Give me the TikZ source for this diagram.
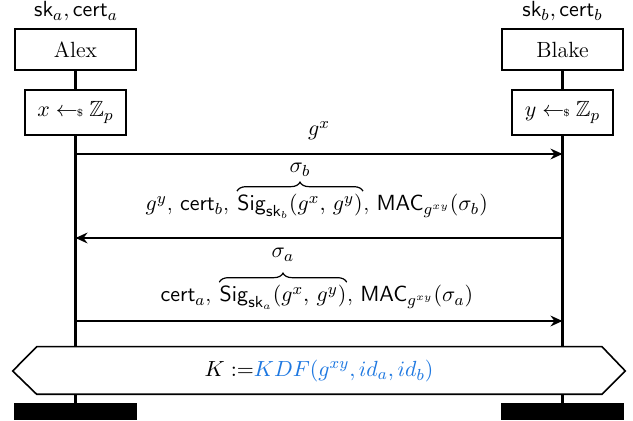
\documentclass[tikz,border=0pt]{standalone}
\usepackage{amssymb}
\usetikzlibrary{arrows.meta,decorations.pathreplacing}
\definecolor{kdfblue}{RGB}{30,120,225}
\tikzset{
  inst/.style={draw, line width=0.8pt, minimum width=60.5pt, minimum height=20.5pt, inner sep=0pt, fill=white},
  act/.style={draw, line width=0.8pt, minimum width=50.5pt, minimum height=22.5pt, inner sep=0pt, fill=white},
  life/.style={line width=1.1pt},
  msg/.style={line width=0.9pt, -{Stealth[length=6pt,width=5.4pt,inset=2pt]}},
  lbl/.style={inner sep=0pt, anchor=base},
  part/.style={inner sep=0pt},
  ovbrace/.style={decorate, decoration={brace, amplitude=4.5pt, raise=1.5pt}, line width=0.6pt},
  hexa/.style={draw, line width=0.8pt, fill=white, line join=miter},
  endbar/.style={fill=black, minimum width=61.5pt, minimum height=8.5pt, inner sep=0pt},
}
\begin{document}
\begin{tikzpicture}[x=0.5pt,y=-0.5pt, font=\fontsize{11}{13.2}\selectfont]
\useasboundingbox (0,0) rectangle (633,421);
% instance heads
\node[inst] (alex) at (75.5,49.5) {Alex};
\node[inst] (blake) at (562.5,49.5) {Blake};
\node[lbl] (keya) at (76,17) {$\mathsf{sk}_a, \mathsf{cert}_a$};
\node[lbl] (keyb) at (562.5,17) {$\mathsf{sk}_b, \mathsf{cert}_b$};
% actions
\node[act] (xa) at (75.5,112.5) {$x \leftarrow\!\!{\scriptscriptstyle\$}\;\mathbb{Z}_p$};
\node[act] (yb) at (562.5,112.5) {$y \leftarrow\!\!{\scriptscriptstyle\$}\;\mathbb{Z}_p$};
% end bars
\node[endbar] (enda) at (75.5,411.5) {};
\node[endbar] (endb) at (562.5,411.5) {};
% lifelines
\draw[life] (alex.south) -- (xa.north);
\draw[life] (blake.south) -- (yb.north);
\draw[life] (xa.south) -- (enda.north);
\draw[life] (yb.south) -- (endb.north);
% message anchors on lifelines
\coordinate (a1) at (75.5,154);
\coordinate (b1) at (562.5,154);
\coordinate (a2) at (75.5,238);
\coordinate (b2) at (562.5,238);
\coordinate (a3) at (75.5,321);
\coordinate (b3) at (562.5,321);
% message 1
\draw[msg] (a1) -- (b1);
\node[lbl] (m1) at (319,136) {$g^x$};
% message 2
\draw[msg] (b2) -- (a2);
\node[part, anchor=base] (m2b) at (300,211) {$\mathsf{Sig}_{\mathsf{sk}_b}(g^x,\, g^y)$};
\node[part, anchor=base east] (m2a) at (m2b.base west) {$g^y$, $\mathsf{cert}_b$,\kern3.7pt};
\node[part, anchor=base west] (m2c) at (m2b.base east) {, $\mathsf{MAC}_{g^{xy}}(\sigma_b)$};
\draw[ovbrace] (m2b.north west) -- (m2b.north east);
\node[lbl] (s2) at (300,173) {$\sigma_b$};
% message 3
\draw[msg] (a3) -- (b3);
\node[part, anchor=base] (m3b) at (283,302) {$\mathsf{Sig}_{\mathsf{sk}_a}(g^x,\, g^y)$};
\node[part, anchor=base east] (m3a) at (m3b.base west) {$\mathsf{cert}_a$,\kern3.7pt};
\node[part, anchor=base west] (m3c) at (m3b.base east) {, $\mathsf{MAC}_{g^{xy}}(\sigma_a)$};
\draw[ovbrace] (m3b.north west) -- (m3b.north east);
\node[lbl] (s3) at (283,258) {$\sigma_a$};
% shared condition
\draw[hexa] (12.7,371) -- (36.7,346.7) -- (602,346.7) -- (625.3,371) -- (602,394.3) -- (36.7,394.3) -- cycle;
\node[inner sep=0pt] (kdf) at (319,371) {$K :=$\textcolor{kdfblue}{$KDF(g^{xy}, id_a, id_b)$}};
\end{tikzpicture}
\end{document}
